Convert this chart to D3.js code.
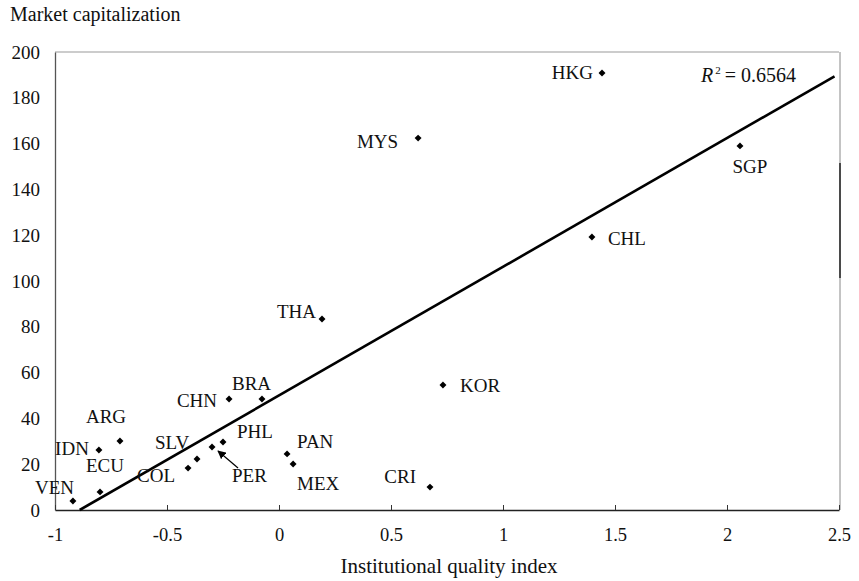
<!DOCTYPE html>
<html>
<head>
<meta charset="utf-8">
<script src="https://cdn.jsdelivr.net/npm/d3@7"></script>
<style>
  body { margin: 0; background: #fff; }
  svg text { font-family: "Liberation Serif", "DejaVu Serif", serif; fill: #111; }
</style>
</head>
<body>
<div id="chart"></div>
<script>
// country codes and values
const countries = ["HKG", "MYS", "SGP", "CHL", "THA", "KOR", "CHN", "BRA", "ARG", "IDN",
                   "ECU", "VEN", "SLV", "COL", "PHL", "PER", "PAN", "MEX", "CRI"];
const qualityIndex = [1.442, 0.621, 2.058, 1.397, 0.192, 0.732, -0.223, -0.076, -0.71, -0.804,
                      -0.799, -0.92, -0.366, -0.406, -0.25, -0.299, 0.036, 0.063, 0.674];
const marketCap = [190.8, 162.4, 159.0, 119.2, 83.4, 54.6, 48.5, 48.5, 30.1, 26.2,
                   7.9, 3.9, 22.3, 18.3, 29.7, 27.5, 24.5, 20.1, 10.0];
const xTicks = [-1, -0.5, 0, 0.5, 1, 1.5, 2, 2.5];
const yTicks = [0, 20, 40, 60, 80, 100, 120, 140, 160, 180, 200];

// fitted line as shown on chart
const trendSlope = 56.2, trendIntercept = 50;
const trendXEnd = 2.48;
const rSquared = "0.6564";

// label placement: [anchor, dx, dy]
const labelPos = {
  HKG: ["end", -9, 6], MYS: ["end", -20, 10], SGP: ["middle", 10, 27], CHL: ["start", 16, 8],
  THA: ["end", -6, -1], KOR: ["start", 17, 7], CHN: ["end", -12, 8], BRA: ["start", -30, -9],
  ARG: ["start", -34, -18], IDN: ["end", -10, 5], ECU: ["start", -14, -20], VEN: ["start", -38, -7],
  SLV: ["start", -42, -10], COL: ["start", -51, 14], PHL: ["start", 14, -4], PER: ["start", 20, 35],
  PAN: ["start", 10, -6], MEX: ["start", 4, 26], CRI: ["end", -14, -4]
};

const width = 859, height = 581;
const plotLeft = 55, plotRight = 839, plotTop = 52, plotBottom = 510;
const serif = "Liberation Serif, DejaVu Serif, serif";

const x = d3.scaleLinear().domain([-1, 2.5]).range([plotLeft, plotRight]);
const y = d3.scaleLinear().domain([0, 200]).range([plotBottom, plotTop]);

const svg = d3.select("#chart").append("svg")
  .attr("width", width).attr("height", height);

// frame on top and right
svg.append("line").attr("x1", plotLeft).attr("x2", plotRight).attr("y1", plotTop).attr("y2", plotTop)
  .attr("stroke", "#999").attr("stroke-width", 1);
svg.append("line").attr("x1", plotRight + 1).attr("x2", plotRight + 1).attr("y1", plotTop).attr("y2", plotBottom)
  .attr("stroke", "#888").attr("stroke-width", 1);
svg.append("line").attr("x1", plotRight + 1).attr("x2", plotRight + 1).attr("y1", 163).attr("y2", 278)
  .attr("stroke", "#222").attr("stroke-width", 1.5);

// y axis
const yAxis = svg.append("g").attr("transform", `translate(${plotLeft},0)`)
  .call(d3.axisLeft(y).tickValues(yTicks).tickSize(0).tickPadding(15));
yAxis.attr("font-family", serif).attr("font-size", 19);
yAxis.select(".domain").attr("stroke", "#555").attr("stroke-width", 1.3);

// x axis (ticks point inward)
const xAxis = svg.append("g").attr("transform", `translate(0,${plotBottom})`)
  .call(d3.axisBottom(x).tickValues(xTicks).tickFormat(d => String(d))
    .tickSizeInner(-5).tickSizeOuter(0).tickPadding(18));
xAxis.attr("font-family", serif).attr("font-size", 18.5);
xAxis.select(".domain").attr("stroke", "#222").attr("stroke-width", 1.6);
xAxis.selectAll(".tick line").attr("stroke", "#333");

// axis titles
svg.append("text").attr("x", 10).attr("y", 21).style("font-size", "20px").text("Market capitalization");
svg.append("text").attr("x", 449).attr("y", 573).attr("text-anchor", "middle")
  .style("font-size", "21px").text("Institutional quality index");

// trend line
const trendXStart = -trendIntercept / trendSlope;
svg.append("line")
  .attr("x1", x(trendXStart)).attr("y1", y(trendSlope * trendXStart + trendIntercept))
  .attr("x2", x(trendXEnd)).attr("y2", y(trendSlope * trendXEnd + trendIntercept))
  .attr("stroke", "#000").attr("stroke-width", 2.6);

// R squared
const r2 = svg.append("text").attr("x", 701).attr("y", 82).style("font-size", "20px");
r2.append("tspan").style("font-style", "italic").text("R");
r2.append("tspan").attr("dy", -8).attr("dx", 2).style("font-size", "11px").text("2");
r2.append("tspan").attr("dy", 8).text("\u2009= " + rSquared);

const points = countries.map((c, i) => ({ code: c, qx: qualityIndex[i], cap: marketCap[i] }));

// markers
svg.selectAll(".pt").data(points).enter().append("path")
  .attr("class", "pt")
  .attr("d", d3.symbol().type(d3.symbolSquare).size(24))
  .attr("transform", d => `translate(${x(d.qx)},${y(d.cap)}) rotate(45)`)
  .attr("fill", "#000");

// labels
svg.selectAll(".lbl").data(points).enter().append("text")
  .attr("class", "lbl")
  .attr("x", d => x(d.qx) + labelPos[d.code][1])
  .attr("y", d => y(d.cap) + labelPos[d.code][2])
  .attr("text-anchor", d => labelPos[d.code][0])
  .style("font-size", "19px")
  .text(d => d.code);

// arrow from PER label to its point
const per = points.find(d => d.code === "PER");
svg.append("defs").append("marker")
  .attr("id", "arrow").attr("viewBox", "0 0 10 10").attr("refX", 9).attr("refY", 5)
  .attr("markerWidth", 7).attr("markerHeight", 7).attr("orient", "auto")
  .append("path").attr("d", "M0,0 L10,5 L0,10 Z").attr("fill", "#000");
svg.append("line")
  .attr("x1", x(per.qx) + 26).attr("y1", y(per.cap) + 21)
  .attr("x2", x(per.qx) + 6).attr("y2", y(per.cap) + 4)
  .attr("stroke", "#000").attr("stroke-width", 1.2)
  .attr("marker-end", "url(#arrow)");
</script>
</body>
</html>
